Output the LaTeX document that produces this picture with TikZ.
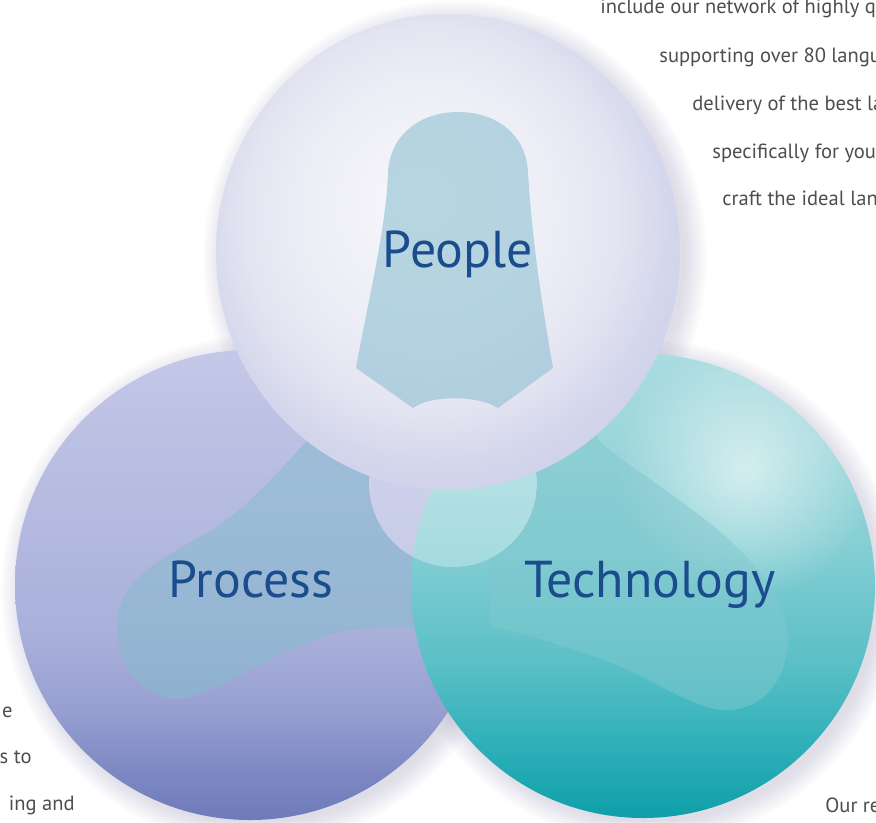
\documentclass[tikz,border=0pt]{standalone}
\usepackage{fontspec}
\setmainfont{PT Sans}
\usepackage{xcolor}
\usetikzlibrary{fadings}
\definecolor{labelblue}{HTML}{1B4D8E}
\definecolor{bodygray}{HTML}{4E4E4E}
\definecolor{shadowgray}{HTML}{B0AECA}
\definecolor{blobteal}{HTML}{86BCCE}
\definecolor{techblob}{HTML}{80C8CF}
\definecolor{pplA}{HTML}{F7F7FB}
\definecolor{pplB}{HTML}{EEEFF6}
\definecolor{pplC}{HTML}{E4E5F2}
\definecolor{pplD}{HTML}{D5D8EC}
\definecolor{pplE}{HTML}{CBCEE7}
\definecolor{prcA}{HTML}{6E7BBA}
\definecolor{prcB}{HTML}{7D88C2}
\definecolor{prcC}{HTML}{98A0D2}
\definecolor{prcD}{HTML}{A9B0DA}
\definecolor{prcE}{HTML}{B2B8DF}
\definecolor{prcF}{HTML}{BDC2E4}
\definecolor{prcG}{HTML}{C4C8E8}
\definecolor{tecA}{HTML}{0E9FA9}
\definecolor{tecB}{HTML}{2AAEB7}
\definecolor{tecC}{HTML}{5CC0C7}
\definecolor{tecD}{HTML}{86CFD4}
\definecolor{tecE}{HTML}{A0D8DC}
\definecolor{tecF}{HTML}{A8DCE0}
\pgfdeclareradialshading{peopleball}{\pgfpoint{-3bp}{6bp}}{color(0bp)=(pplA); color(12bp)=(pplB); color(20bp)=(pplC); color(25bp)=(pplD); color(30bp)=(pplE); color(50bp)=(pplE)}
\pgfdeclareverticalshading{processball}{100bp}{color(0bp)=(prcA); color(25bp)=(prcA); color(30bp)=(prcB); color(37bp)=(prcC); color(45bp)=(prcD); color(55bp)=(prcE); color(68bp)=(prcF); color(75bp)=(prcG); color(100bp)=(prcG)}
\pgfdeclareverticalshading{techball}{100bp}{color(0bp)=(tecA); color(25bp)=(tecA); color(32bp)=(tecB); color(42bp)=(tecC); color(55bp)=(tecD); color(68bp)=(tecE); color(75bp)=(tecF); color(100bp)=(tecF)}
\tikzfading[name=shinefade, inner color=transparent!0, outer color=transparent!100]
\tikzset{
    ballname/.style={text=labelblue, font=\fontsize{29.5}{32}\selectfont, anchor=base, inner sep=0pt},
    bodytext/.style={text=bodygray, font=\fontsize{11.7}{14}\selectfont, anchor=base west, inner sep=0pt},
    blob/.style={fill=blobteal, fill opacity=0.55},
    softshade/.style={fill=shadowgray, opacity=0.035},
    shine/.style={fill=white, path fading=shinefade, fill opacity=0.6}
}
\begin{document}
\begin{tikzpicture}[x=0.02cm,y=-0.02cm]
    \useasboundingbox[fill=white] (0,0) rectangle (876,822);
    \clip (0,0) rectangle (876,822);
    % soft shadows
    \foreach \k in {0,2,...,22}{
        \fill[softshade] (256,591) circle (233+\k);
        \fill[softshade] (649,592) circle (230+\k);
        \fill[softshade] (455,258) ellipse [x radius=230+\k, y radius=236+\k];
    }
    % process ball
    \shade[shading=processball] (250,585) circle (235);
    \path[blob] (335,405) -- (310,437) .. controls (285,465) and (250,505) .. (215,528)
        .. controls (170,555) and (118,575) .. (117,625)
        .. controls (116,670) and (150,705) .. (185,698)
        .. controls (230,688) and (290,640) .. (350,630)
        .. controls (390,624) and (430,628) .. (470,630) -- (480,470) -- cycle;
    % technology ball
    \shade[shading=techball] (643,586) circle (232);
    \begin{scope}
        \clip (643,586) circle (232);
        \fill[shine] (745,470) circle (130);
    \end{scope}
    \path[fill=techblob, fill opacity=0.5] (560,420) -- (590,420) -- (600,442)
        .. controls (640,475) and (700,510) .. (740,550)
        .. controls (775,585) and (792,620) .. (787,650)
        .. controls (782,690) and (755,712) .. (722,710)
        .. controls (690,708) and (640,670) .. (590,655)
        .. controls (560,645) and (520,632) .. (490,627) -- (490,555) -- (500,470) -- cycle;
    % hub
    \begin{scope}
        \clip (453,483) circle (84);
        \shade[shading=processball] (250,585) circle (235);
        \shade[shading=techball] (643,586) circle (232);
        \fill[white, opacity=0.3] (453,483) circle (84);
    \end{scope}
    % people ball
    \shade[shading=peopleball] (448,252) ellipse [x radius=232, y radius=238];
    \path[blob] (413,408) -- (356,368) .. controls (368,300) and (386,230) .. (388,172)
        .. controls (390,135) and (420,112) .. (458,112)
        .. controls (497,112) and (526,135) .. (528,172)
        .. controls (532,240) and (542,305) .. (553,368) -- (498,408)
        .. controls (480,396) and (432,394) .. cycle;
    % names
    \node[ballname] (people) at (458,267) {People};
    \node[ballname] (process) at (251,597) {Process};
    \node[ballname] (technology) at (650,597) {Technology};
    % cut text
    \node[bodytext] (t1) at (600,13) {include our network of highly q};
    \node[bodytext] (t2) at (659,62) {supporting over 80 langu};
    \node[bodytext] (t3) at (692,110) {delivery of the best la};
    \node[bodytext] (t4) at (712,158) {specifically for your};
    \node[bodytext] (t5) at (722,205) {craft the ideal lan};
    \node[bodytext, anchor=base east] (l1) at (13,717) {e};
    \node[bodytext, anchor=base east] (l2) at (32,763) {s to};
    \node[bodytext, anchor=base east] (l3) at (75,810) {ing and};
    \node[bodytext] (r1) at (825,812) {Our re};
\end{tikzpicture}
\end{document}
